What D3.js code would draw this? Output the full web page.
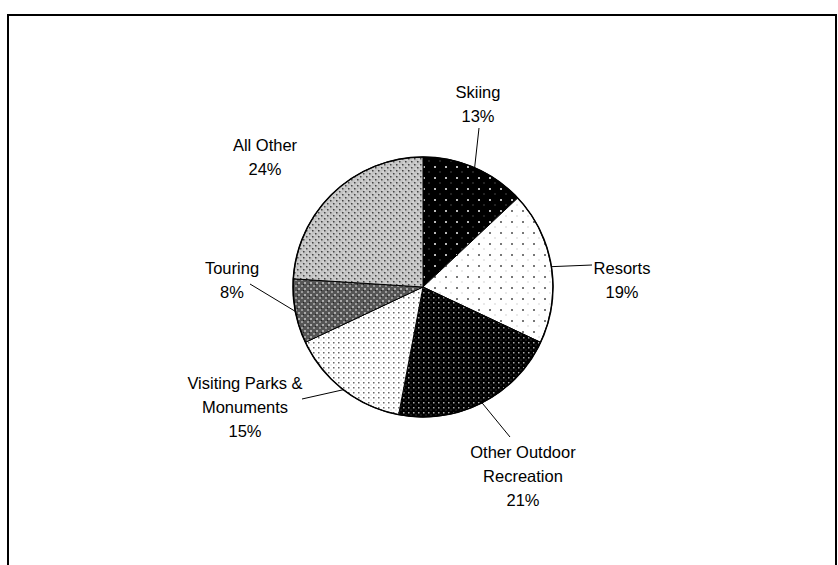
<!DOCTYPE html>
<html>
<head>
<meta charset="utf-8">
<script src="https://cdn.jsdelivr.net/npm/d3@7"></script>
<style>
  html, body { margin: 0; padding: 0; background: #fff; }
  svg { display: block; }
  text { font-family: "Liberation Sans", Arial, sans-serif; font-size: 16.5px; fill: #000; }
</style>
</head>
<body>
<svg id="chart" width="838" height="565"></svg>
<script>
// Travel spending by activity (percent of total)
const categories = ["Skiing", "Resorts", "Other Outdoor Recreation", "Visiting Parks & Monuments", "Touring", "All Other"];
const shares = [13, 19, 21, 15, 8, 24];
const labelLines = [
  ["Skiing", "13%"],
  ["Resorts", "19%"],
  ["Other Outdoor", "Recreation", "21%"],
  ["Visiting Parks &", "Monuments", "15%"],
  ["Touring", "8%"],
  ["All Other", "24%"]
];
// label anchor points (centre of the text block) and leader line ends
const labelPos = [[478, 104], [622, 280], [523, 476], [245, 407], [232, 280], [265, 157]];
const leaderEnds = [[479, 128], [592, 265], [510, 437], [302, 399], [250, 284], [0, 0]];
const hasLeader = [true, true, true, true, true, false];

const svg = d3.select("#chart");
const defs = svg.append("defs");

function dotPattern(id, size, bg, dots) {
  const p = defs.append("pattern").attr("id", id)
    .attr("patternUnits", "userSpaceOnUse")
    .attr("width", size).attr("height", size);
  p.append("rect").attr("width", size).attr("height", size).attr("fill", bg);
  dots.forEach(d => {
    p.append("rect").attr("x", d[0]).attr("y", d[1])
      .attr("width", d[2]).attr("height", d[2]).attr("fill", d[3]);
  });
}
// sparse dots
dotPattern("p0", 11, "#000", [[0, 0, 2, "#bbb"], [5.5, 5.5, 1, "#888"]]);
dotPattern("p1", 11, "#fff", [[0, 0, 2, "#777"], [5.5, 5.5, 1, "#aaa"]]);
// dense dots
dotPattern("p2", 5, "#000", [[0, 0, 1.5, "#aaa"], [2.5, 2.5, 1, "#555"]]);
dotPattern("p3", 5, "#fff", [[0, 0, 1.5, "#666"], [2.5, 2.5, 1, "#bbb"]]);
// checkered textures
(function () {
  const p = defs.append("pattern").attr("id", "p4")
    .attr("patternUnits", "userSpaceOnUse").attr("width", 6).attr("height", 6);
  p.append("rect").attr("width", 6).attr("height", 6).attr("fill", "#555");
  p.append("rect").attr("x", 1).attr("y", 1).attr("width", 2).attr("height", 2).attr("fill", "#aaa");
  p.append("rect").attr("x", 4).attr("y", 4).attr("width", 2).attr("height", 2).attr("fill", "#999");
  p.append("rect").attr("x", 0).attr("y", 3).attr("width", 1).attr("height", 1).attr("fill", "#222");
})();
(function () {
  const p = defs.append("pattern").attr("id", "p5")
    .attr("patternUnits", "userSpaceOnUse").attr("width", 6).attr("height", 6);
  p.append("rect").attr("width", 6).attr("height", 6).attr("fill", "#c4c4c4");
  p.append("rect").attr("x", 0).attr("y", 0).attr("width", 1.5).attr("height", 1.5).attr("fill", "#444");
  p.append("rect").attr("x", 3).attr("y", 3).attr("width", 1.5).attr("height", 1.5).attr("fill", "#444");
  p.append("rect").attr("x", 1.5).attr("y", 4.5).attr("width", 1).attr("height", 1).attr("fill", "#fff");
  p.append("rect").attr("x", 4.5).attr("y", 1.5).attr("width", 1).attr("height", 1).attr("fill", "#fff");
})();

// outer frame
svg.append("rect").attr("x", 8).attr("y", 15).attr("width", 828).attr("height", 600)
  .attr("fill", "none").attr("stroke", "#000").attr("stroke-width", 2);

const cx = 423, cy = 287, r = 130;
const pie = d3.pie().sort(null).value(d => d)(shares);
const arc = d3.arc().innerRadius(0).outerRadius(r);

const g = svg.append("g").attr("transform", `translate(${cx},${cy})`);
g.selectAll("path.slice").data(pie).join("path")
  .attr("class", "slice")
  .attr("d", arc)
  .attr("fill", (d, i) => `url(#p${i})`)
  .attr("stroke", "#000").attr("stroke-width", 1);
g.append("circle").attr("r", r).attr("fill", "none").attr("stroke", "#000").attr("stroke-width", 1.5);

// leader lines from the slice rim to the label
pie.forEach((d, i) => {
  if (!hasLeader[i]) return;
  const a = (d.startAngle + d.endAngle) / 2;
  const x0 = cx + r * Math.sin(a), y0 = cy - r * Math.cos(a);
  svg.append("line").attr("x1", x0).attr("y1", y0)
    .attr("x2", leaderEnds[i][0]).attr("y2", leaderEnds[i][1])
    .attr("stroke", "#000").attr("stroke-width", 1);
});

// labels
const lh = 24;
labelLines.forEach((lines, i) => {
  const [lx, ly] = labelPos[i];
  const top = ly - (lines.length - 1) * lh / 2;
  const t = svg.append("text").attr("text-anchor", "middle");
  lines.forEach((s, k) => {
    t.append("tspan").attr("x", lx).attr("y", top + k * lh).attr("dy", "0.35em").text(s);
  });
});
</script>
</body>
</html>
